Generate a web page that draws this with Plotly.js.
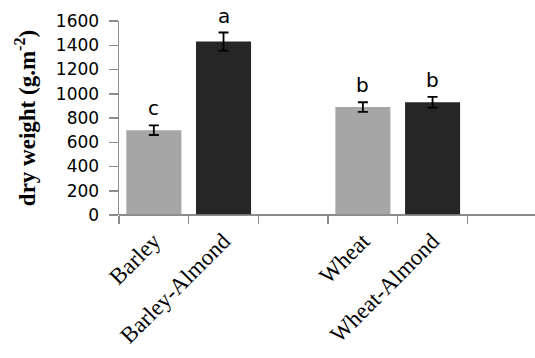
<!DOCTYPE html>
<html>
<head>
<meta charset="utf-8">
<script src="https://cdn.plot.ly/plotly-3.0.1.min.js"></script>
<style>html,body{margin:0;padding:0;background:#fff;overflow:hidden;}#chart{width:535px;height:358px;}</style>
</head>
<body>
<div id="chart"></div>
<script>
// Data
var categories = ["Barley", "Barley-Almond", " ", "Wheat", "Wheat-Almond"];
var dryWeight = [700, 1430, null, 890, 930];
var errorSE = [40, 75, null, 40, 45];
var letters = ["c", "a", "", "b", "b"];
var barColors = ["#a6a6a6", "#262626", "rgba(0,0,0,0)", "#a6a6a6", "#262626"];
var yTicks = [0, 200, 400, 600, 800, 1000, 1200, 1400, 1600];

var trace = {
  type: "bar",
  x: categories,
  y: dryWeight,
  width: 0.79,
  marker: { color: barColors },
  error_y: { type: "data", array: errorSE, visible: true, color: "#000000", thickness: 1.8, width: 5 },
  hoverinfo: "none"
};

var annotations = [];
for (var i = 0; i < categories.length; i++) {
  if (!letters[i]) continue;
  annotations.push({
    x: categories[i], y: dryWeight[i] + errorSE[i],
    xref: "x", yref: "y",
    text: letters[i], showarrow: false,
    yanchor: "bottom", yshift: 3,
    font: { family: "DejaVu Sans, Verdana, sans-serif", size: 20, color: "#000000" }
  });
}

var layout = {
  width: 535, height: 358,
  margin: { l: 119, r: 0, t: 21, b: 142.5, pad: 0 },
  paper_bgcolor: "#ffffff", plot_bgcolor: "#ffffff",
  showlegend: false,
  xaxis: {
    type: "category",
    categoryorder: "array", categoryarray: categories,
    range: [-0.5, 5.47],
    tickson: "boundaries",
    ticks: "outside", ticklen: 8, tickwidth: 1.5, tickcolor: "#8c8c8c",
    showline: false,
    showgrid: false, zeroline: false,
    tickangle: -45,
    ticklabelstandoff: 7,
    tickfont: { family: "Liberation Serif, Times New Roman, serif", size: 23, color: "#000000" }
  },
  yaxis: {
    range: [0, 1600],
    tickvals: yTicks,
    ticks: "outside", ticklen: 9, tickwidth: 1.5, tickcolor: "#8c8c8c",
    showline: true, linecolor: "#8c8c8c", linewidth: 1.5,
    showgrid: false,
    zeroline: true, zerolinecolor: "#8c8c8c", zerolinewidth: 1.5,
    ticklabelstandoff: 6,
    tickfont: { family: "DejaVu Sans, Verdana, sans-serif", size: 17, color: "#000000" },
    title: {
      text: "<b>dry weight (g.m<sup>-2</sup>)</b>",
      standoff: 14,
      font: { family: "Liberation Serif, Times New Roman, serif", size: 23, color: "#000000" }
    }
  },
  shapes: [{
    type: "line", xref: "paper", yref: "paper", layer: "above",
    x0: 0, x1: 1, y0: 0, y1: 0,
    line: { color: "#8c8c8c", width: 1.5 }
  }],
  annotations: annotations
};

Plotly.newPlot("chart", [trace], layout, { displayModeBar: false, staticPlot: true });
</script>
</body>
</html>
